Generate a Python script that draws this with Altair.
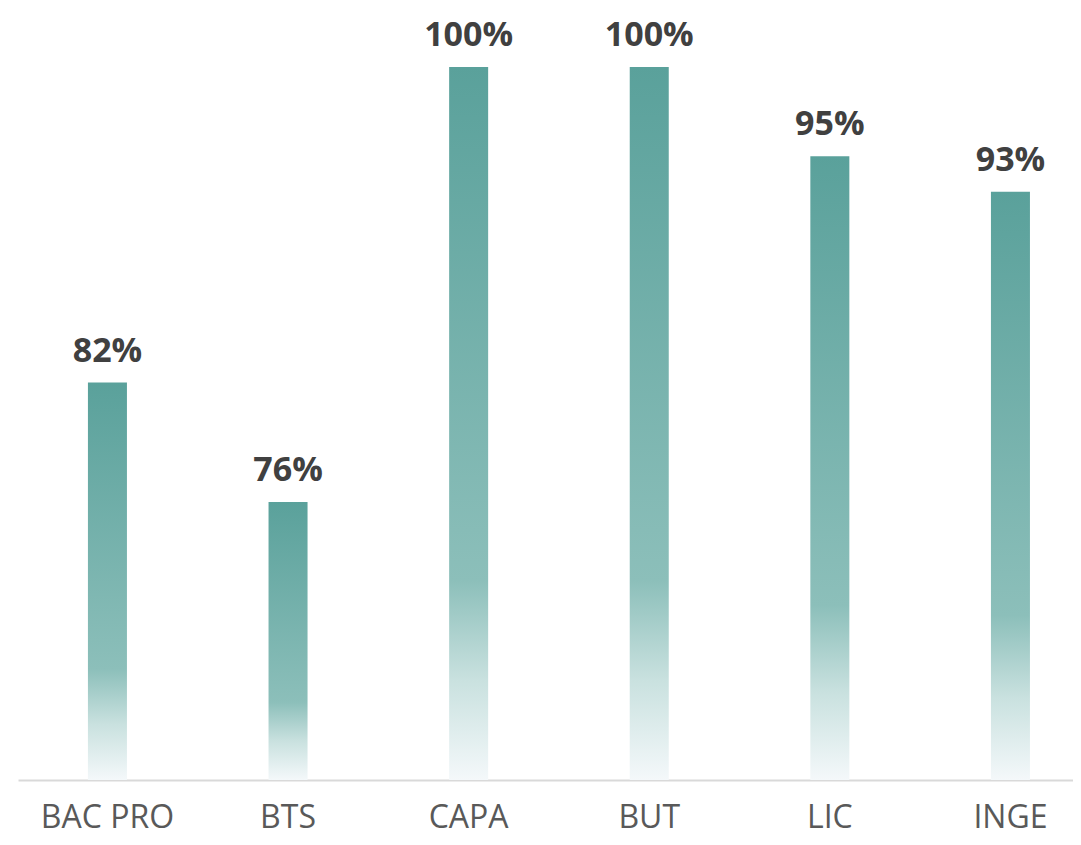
import altair as alt
import pandas as pd

categories = ["BAC PRO", "BTS", "CAPA", "BUT", "LIC", "INGE"]
values = [82.3, 75.6, 100, 100, 95, 93]
labels = ["82%", "76%", "100%", "100%", "95%", "93%"]

df = pd.DataFrame({"cat": categories, "val": values, "lab": labels})

gradient = alt.Gradient(
    gradient="linear",
    stops=[
        alt.GradientStop(color="#5aa19b", offset=0),
        alt.GradientStop(color="#8cbfba", offset=0.72),
        alt.GradientStop(color="#c9e1df", offset=0.86),
        alt.GradientStop(color="#f4f8fa", offset=1),
    ],
    x1=0, x2=0, y1=0, y2=1,
)

x = alt.X(
    "cat:N",
    sort=categories,
    title=None,
    scale=alt.Scale(paddingInner=0.784, paddingOuter=0.3128, align=0.619),
    axis=alt.Axis(
        labelAngle=0,
        labelFont="Open Sans",
        labelFontSize=32,
        labelColor="#595959",
        labelBaseline="alphabetic",
        ticks=False,
        tickSize=0,
        labelPadding=47,
        domainColor="#d9d9d9",
        domainWidth=2,
        grid=False,
    ),
)
y = alt.Y("val:Q", scale=alt.Scale(domain=[60, 100], zero=False, nice=False), axis=None)

base = alt.Chart(df)
bars = base.mark_bar(color=gradient).encode(x=x, y=y, y2=alt.datum(60))
text = base.mark_text(
    dy=-21,
    baseline="alphabetic",
    font="Open Sans",
    fontWeight="bold",
    fontSize=34,
    color="#404040",
).encode(x=x, y=y, text="lab:N")

chart = (
    alt.layer(bars, text)
    .properties(
        width=1055,
        height=713,
        autosize=alt.AutoSizeParams(type="none"),
        padding={"left": 10, "top": 59, "right": 0, "bottom": 57},
    )
    .configure_view(stroke=None)
)

chart.save("out.html", embed_options={"renderer": "svg", "actions": False})
